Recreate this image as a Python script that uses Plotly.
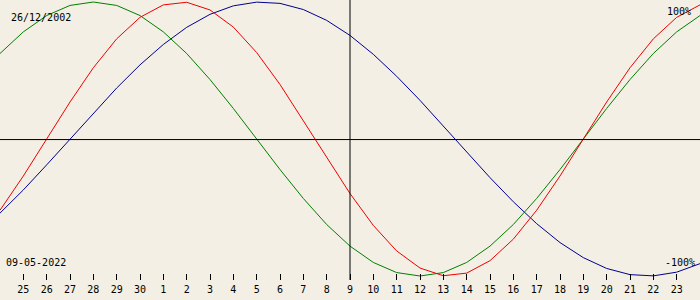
import plotly.graph_objects as go

# Days from 24 Apr to 24 May 2022 (index 0..30)
days = [24, 25, 26, 27, 28, 29, 30, 1, 2, 3, 4, 5, 6, 7, 8, 9, 10, 11, 12,
        13, 14, 15, 16, 17, 18, 19, 20, 21, 22, 23, 24]

physical = [-0.52, -0.27, 0.0, 0.27, 0.52, 0.731, 0.888, 0.979, 0.998, 0.942,
            0.817, 0.631, 0.398, 0.136, -0.136, -0.398, -0.631, -0.817, -0.942,
            -0.998, -0.979, -0.888, -0.731, -0.52, -0.27, 0.0, 0.27, 0.52,
            0.731, 0.888, 0.979]

emotional = [0.624, 0.782, 0.901, 0.975, 1.0, 0.975, 0.901, 0.782, 0.624,
             0.434, 0.223, 0.0, -0.223, -0.434, -0.624, -0.782, -0.901, -0.975,
             -1.0, -0.975, -0.901, -0.782, -0.624, -0.434, -0.223, 0.0, 0.223,
             0.434, 0.624, 0.782, 0.901]

intellectual = [-0.541, -0.372, -0.189, 0.0, 0.189, 0.372, 0.541, 0.69, 0.815,
                0.91, 0.972, 0.999, 0.99, 0.945, 0.866, 0.756, 0.618, 0.458,
                0.282, 0.095, -0.095, -0.282, -0.458, -0.618, -0.756, -0.866,
                -0.945, -0.99, -0.999, -0.972, -0.91]

birth_label = "26/12/2002"
date_label = "09-05-2022"
today_index = 15

x = list(range(len(days)))
BG = "#F3EFE4"
FONT = "DejaVu Sans Mono"

fig = go.Figure()
for vals, col in [(intellectual, "#000090"), (emotional, "#007F00"), (physical, "#F00000")]:
    fig.add_trace(go.Scatter(x=x, y=vals, mode="lines",
                             line=dict(color=col, width=1), hoverinfo="skip"))

tick_idx = x[1:-1]
fig.update_xaxes(range=[0, 30], showgrid=False, zeroline=False, showline=False,
                 tickmode="array", tickvals=tick_idx,
                 ticktext=[str(days[i]) for i in tick_idx],
                 ticks="inside", ticklen=6, tickwidth=1, tickcolor="black",
                 tickfont=dict(family=FONT, size=10, color="black"),
                 ticklabelstandoff=2)
fig.update_yaxes(range=[-1.0292, 1.0146], showgrid=False, zeroline=False,
                 showline=False, showticklabels=False, ticks="")

fig.add_shape(type="line", xref="paper", yref="y", x0=0, x1=1, y0=-0.004, y1=-0.004,
              line=dict(color="black", width=1))
fig.add_shape(type="line", xref="x", yref="paper", x0=today_index, x1=today_index,
              y0=0, y1=1, line=dict(color="black", width=1))

H = 280.0
def ann(text, px, py, anchor):
    fig.add_annotation(text=text, xref="paper", yref="paper", x=px / 700.0,
                       y=(H - py) / H, xanchor=anchor, yanchor="middle",
                       showarrow=False, font=dict(family=FONT, size=10, color="black"))

ann(birth_label, 9, 17, "left")
ann(date_label, 4, 262, "left")
ann("100%", 693, 12, "right")
ann("-100%", 697, 262, "right")

fig.update_layout(width=700, height=300, margin=dict(l=0, r=0, t=0, b=20),
                  paper_bgcolor=BG, plot_bgcolor=BG, showlegend=False)

fig.write_html("out.html")
